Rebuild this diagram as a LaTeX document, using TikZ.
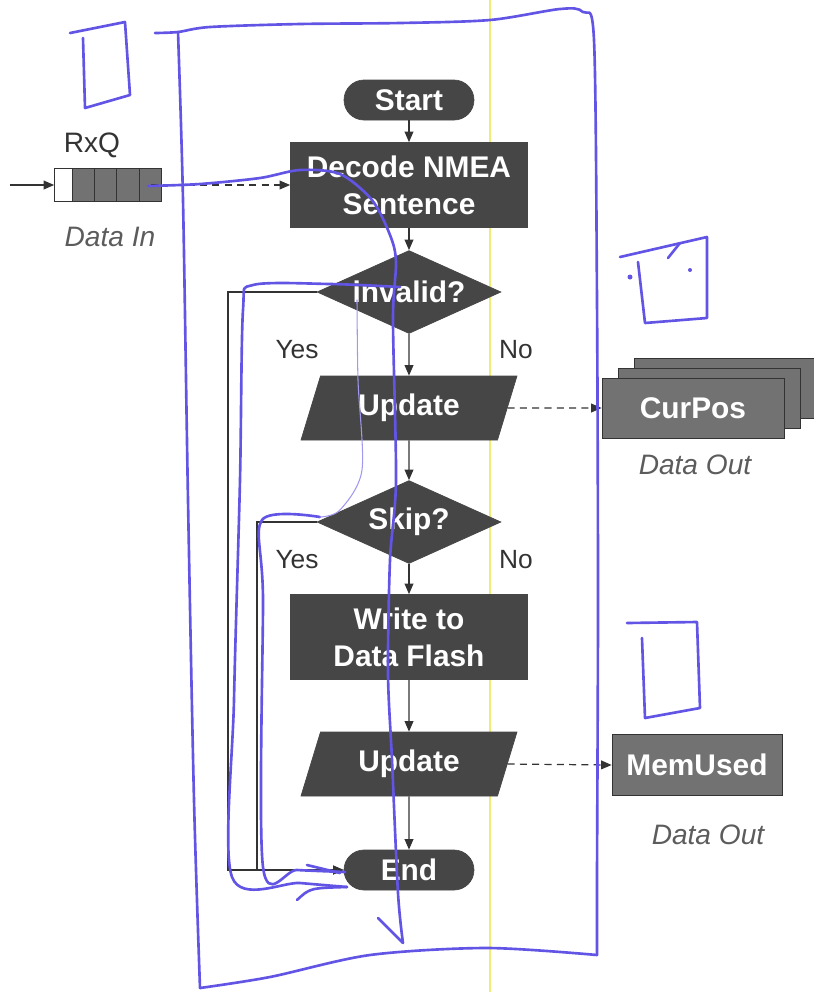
\documentclass[tikz,border=0pt]{standalone}
\usepackage{fontspec}
\setmainfont{Liberation Sans}
\usetikzlibrary{shapes.geometric,arrows.meta}
\definecolor{boxgray}{HTML}{464646}
\definecolor{datagray}{HTML}{727272}
\definecolor{linegray}{HTML}{333333}
\definecolor{pen}{RGB}{98,84,228}
\definecolor{scanyellow}{HTML}{EEEE77}
\begin{document}
\begin{tikzpicture}
[x=0.02cm,y=-0.02cm,%
 nodetext/.style={font=\fontsize{17}{21}\selectfont\bfseries,text=white,align=center},%
 termdecorate/.style={nodetext,shape=rectangle,rounded corners=0.4cm,fill=boxgray,draw=boxgray,minimum width=2.6cm,minimum height=0.8cm,inner sep=0pt},%
 procdecorate/.style={nodetext,shape=rectangle,fill=boxgray,draw=boxgray,minimum width=4.74cm,minimum height=1.7cm,inner sep=0pt},%
 decidedecorate/.style={nodetext,shape=diamond,aspect=2.2,fill=boxgray,draw=boxgray,minimum width=3.68cm,minimum height=1.66cm,inner sep=0pt},%
 iodecorate/.style={nodetext,shape=trapezium,trapezium left angle=55,trapezium right angle=125,trapezium stretches body,fill=boxgray,draw=boxgray,minimum width=4.32cm,minimum height=1.28cm,inner sep=0pt},%
 datadecorate/.style={nodetext,shape=rectangle,fill=datagray,draw=linegray,minimum height=1.2cm,inner sep=0pt},%
 labeldecorate/.style={font=\fontsize{15}{18}\selectfont,text=linegray},%
 notedecorate/.style={font=\fontsize{16}{19}\selectfont\itshape,text=linegray!80},%
 linedecorate/.style={-{Triangle[length=6pt,width=5pt]},draw=linegray,line width=0.7pt},%
 dashdecorate/.style={linedecorate,dash pattern=on 4pt off 3pt},%
 pendecorate/.style={draw=pen,line width=1.5pt,line cap=round,line join=round}]
\useasboundingbox (0,0) rectangle (814,992);
%% scan line
\draw[scanyellow,line width=0.6pt] (490,0) -- (490,992);
%% flow nodes
\foreach \nodename/\y/\kind/\txt in {start/100/termdecorate/Start,
  decode/185/procdecorate/{Decode NMEA\\Sentence},
  invalid/292/decidedecorate/invalid?, updpos/408/iodecorate/Update,
  skip/522/decidedecorate/Skip?, write/637/procdecorate/{Write to\\Data Flash},
  updmem/764/iodecorate/Update, end/870/termdecorate/End}
{
  \node (\nodename) at (409,\y) [\kind] {\txt};
}
%% data nodes
\node (rxq) at (108,185) [draw=linegray,fill=datagray,minimum width=2.14cm,minimum height=0.66cm,inner sep=0pt] {};
\filldraw[fill=white,draw=linegray,line width=0.6pt] (rxq.north west) rectangle ++(18,33);
\foreach \dx in {40,62,85}
  \draw[linegray,line width=0.6pt] (rxq.north west) ++(\dx,0) -- ++(0,33);
\node (rxqname) at (92,145) [labeldecorate,font=\fontsize{16}{19}\selectfont] {RxQ};
\node (datain) at (110,237) [notedecorate] {Data In};
\node (curposC) at (725,388) [datadecorate,minimum width=3.64cm] {};
\node (curposB) at (709,398) [datadecorate,minimum width=3.64cm] {};
\node (curpos) at (693,408) [datadecorate,minimum width=3.64cm] {CurPos};
\node (dataoutA) at (695,465) [notedecorate] {Data Out};
\node (memused) at (697,765) [datadecorate,minimum width=3.4cm,minimum height=1.22cm] {MemUsed};
\node (dataoutB) at (708,835) [notedecorate] {Data Out};
%% branch labels
\foreach \nodename/\x/\y/\txt in {yesA/297/350/Yes, noA/516/350/No,
  yesB/297/560/Yes, noB/516/560/No}
{
  \node (\nodename) at (\x,\y) [labeldecorate] {\txt};
}
%% edges
\foreach \startnode/\endnode in {start/decode, decode/invalid, invalid/updpos,
  updpos/skip, skip/write, write/updmem, updmem/end}
{
  \draw[linedecorate] (\startnode.south) -- (\endnode.north);
}
\coordinate (outerloop) at (228,0);
\coordinate (innerloop) at (257,0);
\coordinate (feed) at (10,185);
\draw[linedecorate] (invalid.west) -- (invalid.west -| outerloop) |- (end.west);
\draw[linedecorate] (skip.west) -- (skip.west -| innerloop) |- (end.west);
\draw[linedecorate] (feed) -- (rxq.west);
\draw[dashdecorate] ([xshift=-0.22cm]rxq.east) -- (decode.west);
\draw[dashdecorate] (updpos.east) -- (curpos.west);
\draw[dashdecorate] (updmem.east) -- (memused.west);
%% pen marks
\draw[pendecorate] (70,33) -- (125,22) -- (130,95) -- (85,108) -- (83,38);
\draw[pendecorate] plot[smooth] coordinates {(155,33) (178,32) (210,27) (300,24) (400,23) (490,20) (560,9) (583,12) (594,40) (597,300) (598,600) (597,880) (597,955)};
\draw[pendecorate] plot[smooth] coordinates {(178,32) (183,200) (188,500) (194,800) (200,988)};
\draw[pendecorate] plot[smooth] coordinates {(200,988) (270,977) (370,955) (487,948) (597,955)};
\draw[pendecorate] (620,257) -- (707,237) -- (707,318) -- (645,323) -- (638,262);
\draw[pendecorate] (668,258) -- (680,243);
\fill[pen] (630,277) circle (2.5) (690,270) circle (2);
\draw[pendecorate] (627,623) -- (697,622) -- (700,708) -- (645,718) -- (642,638);
\draw[pendecorate] plot[smooth] coordinates {(148,186) (200,184) (260,178) (300,170) (340,174) (372,200) (390,235) (396,262) (393,320) (396,480) (390,560) (388,673) (392,760) (398,893) (403,943)};
\draw[pendecorate] (378,918) -- (403,943);
\draw[pendecorate] plot[smooth] coordinates {(400,287) (330,284) (253,285) (243,310) (240,480) (234,700) (232,877) (300,883) (347,887)};
\draw[pendecorate] (297,900) .. controls (310,888) .. (347,887);
\draw[pendecorate] (307,865) -- (340,873);
\draw[pendecorate] plot[smooth] coordinates {(320,517) (262,520) (263,600) (263,867) (297,870) (345,872)};
\draw[pendecorate,draw=pen!60,line width=0.6pt] plot[smooth] coordinates {(357,300) (358,380) (362,470) (340,510) (320,517)};
\end{tikzpicture}
\end{document}
